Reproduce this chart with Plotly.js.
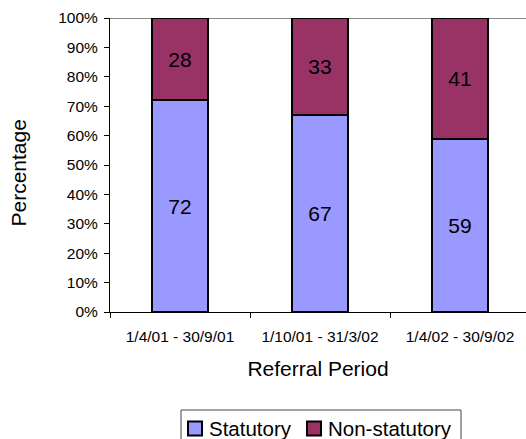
<!DOCTYPE html>
<html>
<head>
<meta charset="utf-8">
<script src="https://cdn.plot.ly/plotly-3.0.1.min.js"></script>
<style>
  html, body { margin: 0; padding: 0; background: #fff; }
  #chart { width: 526px; height: 439px; }
</style>
</head>
<body>
<div id="chart"></div>
<script>
// Referral periods and the share of each referral type (%)
const periods = ['1/4/01 - 30/9/01', '1/10/01 - 31/3/02', '1/4/02 - 30/9/02'];
const statutory = [72, 67, 59];
const nonStatutory = [28, 33, 41];
const yTickValues = [0, 10, 20, 30, 40, 50, 60, 70, 80, 90, 100];
const seriesNames = ['Statutory', 'Non-statutory'];
const seriesColors = ['#9999FF', '#993366'];

const FONT = 'Arial, "Liberation Sans", sans-serif';

// Plot area geometry (pixels) used to place the y title and the boxed legend
const W = 526, H = 439;
const M = { l: 110, r: 0, t: 18, b: 127 };
const plotW = W - M.l - M.r;
const plotH = H - M.t - M.b;
const px = x => (x - M.l) / plotW;          // page x -> paper x
const py = y => (H - M.b - y) / plotH;      // page y -> paper y

function barTrace(name, values, color) {
  return {
    type: 'bar',
    name: name,
    x: periods,
    y: values,
    width: 0.4,
    marker: { color: color, line: { color: '#000', width: 2 } },
    text: values.map(String),
    textposition: 'inside',
    insidetextanchor: 'middle',
    textangle: 0,
    textfont: { family: FONT, size: 21, color: '#000' },
    hoverinfo: 'x+y+name'
  };
}

const data = [
  barTrace(seriesNames[0], statutory, seriesColors[0]),
  barTrace(seriesNames[1], nonStatutory, seriesColors[1])
];

// Legend: a framed row with two swatches and their labels
const legendItems = [
  { sx: 188, tx: 207 },
  { sx: 307, tx: 326 }
];
const shapes = [
  { type: 'line', xref: 'paper', yref: 'y', x0: 0, x1: 1, y0: 100, y1: 100,
    line: { color: '#888', width: 2 }, layer: 'below' },
  { type: 'rect', xref: 'paper', yref: 'paper',
    x0: px(181), x1: px(461), y0: py(410), y1: py(448),
    line: { color: '#444', width: 1 }, fillcolor: 'rgba(0,0,0,0)' }
];
const annotations = [
  // y-axis title, set slightly below the plot's middle
  { xref: 'paper', yref: 'paper', x: px(17.5), y: py(173),
    xanchor: 'center', yanchor: 'middle', showarrow: false, textangle: -90,
    text: 'Percentage', font: { family: FONT, size: 21, color: '#000' } }
];
legendItems.forEach((it, i) => {
  shapes.push({ type: 'rect', xref: 'paper', yref: 'paper',
    x0: px(it.sx), x1: px(it.sx + 14), y0: py(421.5), y1: py(435.5),
    line: { color: '#000', width: 2 }, fillcolor: seriesColors[i] });
  annotations.push({ xref: 'paper', yref: 'paper', x: px(it.tx), y: py(428.5),
    xanchor: 'left', yanchor: 'middle', showarrow: false,
    text: seriesNames[i], font: { family: FONT, size: 20.5, color: '#000' } });
});

const layout = {
  width: W,
  height: H,
  barmode: 'stack',
  paper_bgcolor: '#fff',
  plot_bgcolor: '#fff',
  margin: M,
  font: { family: FONT, color: '#000' },
  showlegend: false,
  xaxis: {
    type: 'category',
    range: [-0.5, 2.4714],
    tickson: 'boundaries',
    ticks: 'outside',
    ticklen: 5,
    tickcolor: '#000',
    ticklabelstandoff: 10,
    showline: true,
    linecolor: '#000',
    linewidth: 1,
    showgrid: false,
    zeroline: false,
    tickfont: { family: FONT, size: 15.5, color: '#000' },
    title: { text: 'Referral Period', font: { family: FONT, size: 21, color: '#000' }, standoff: 17 }
  },
  yaxis: {
    range: [0, 100],
    tickvals: yTickValues,
    ticktext: yTickValues.map(v => v + '%'),
    ticks: 'outside',
    ticklen: 5,
    tickcolor: '#000',
    ticklabelstandoff: 3,
    showline: true,
    linecolor: '#000',
    linewidth: 1,
    showgrid: false,
    zeroline: false,
    tickfont: { family: FONT, size: 15.5, color: '#000' }
  },
  shapes: shapes,
  annotations: annotations
};

Plotly.newPlot('chart', data, layout, { displayModeBar: false, staticPlot: true });
</script>
</body>
</html>
